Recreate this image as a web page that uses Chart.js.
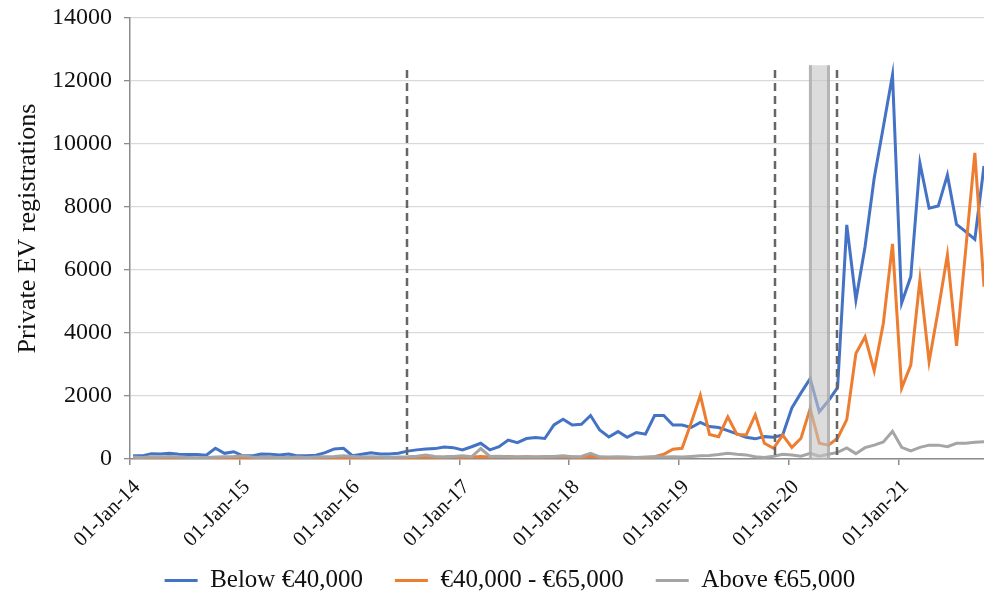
<!DOCTYPE html>
<html>
<head>
<meta charset="utf-8">
<script src="https://cdn.jsdelivr.net/npm/chart.js@4.4.1/dist/chart.umd.min.js"></script>
<style>
  html, body { margin: 0; padding: 0; background: #fff; }
  #wrap { width: 984px; height: 598px; }
</style>
</head>
<body>
<div id="wrap"><canvas id="chart" width="984" height="598"></canvas></div>
<script>
// x axis is in months since 01-Jan-14, points sit ~1/3 month after the tick
const YEAR_TICKS  = [0, 12, 24, 36, 48, 60, 72, 84];
const YEAR_LABELS = ['01-Jan-14', '01-Jan-15', '01-Jan-16', '01-Jan-17',
                     '01-Jan-18', '01-Jan-19', '01-Jan-20', '01-Jan-21'];
const POINT_OFFSET = 1 / 3;
const N_MONTHS = 94; // Jan 2014 .. Oct 2021

const BELOW_40K = [
  100, 100, 170, 160, 180, 150, 140, 140, 120, 340, 180, 230,
  100, 100, 160, 150, 130, 160, 100, 100, 120, 200, 320, 340,
  100, 150, 200, 160, 160, 180, 250, 290, 320, 330, 380, 360,
  290, 390, 500, 290, 390, 600, 520, 650, 680, 650, 1080, 1260,
  1080, 1100, 1380, 920, 700, 870, 690, 840, 790, 1380, 1380, 1080,
  1080, 1000, 1160, 1030, 1000, 900, 800, 690, 640, 710, 690, 760,
  1620, 2100, 2550, 1500, 1850, 2270, 7430, 5050, 6740, 8920, 10550, 12190,
  4950, 5790, 9390, 7960, 8030, 9020, 7450, 7220, 6975, 9300
];
const MID_40_65K = [
  20, 30, 40, 30, 40, 30, 20, 20, 30, 20, 20, 30,
  20, 20, 30, 30, 20, 30, 20, 20, 20, 30, 40, 30,
  30, 40, 40, 30, 40, 50, 40, 50, 60, 50, 60, 80,
  50, 60, 80, 60, 70, 80, 60, 70, 60, 70, 80, 70,
  60, 50, 90, 50, 40, 40, 50, 40, 40, 70, 150, 310,
  340, 1150, 2020, 780, 710, 1340, 780, 760, 1400, 500, 340, 760,
  370, 660, 1600, 500, 440, 660, 1250, 3350, 3880, 2800, 4310, 6830,
  2250, 2980, 5700, 3090, 4730, 6480, 3590, 6640, 9720, 5470
];
const ABOVE_65K = [
  60, 50, 70, 60, 80, 60, 50, 40, 50, 60, 70, 80,
  100, 60, 50, 60, 40, 50, 60, 50, 60, 70, 80, 100,
  80, 60, 70, 60, 50, 60, 70, 90, 130, 80, 60, 80,
  100, 70, 330, 80, 90, 70, 60, 80, 60, 70, 80, 100,
  70, 80, 180, 70, 60, 70, 60, 50, 60, 70, 60, 70,
  60, 80, 100, 110, 140, 180, 150, 130, 70, 50, 90, 150,
  130, 90, 180, 90, 150, 210, 350, 170, 360, 440, 540, 880,
  370, 260, 370, 440, 440, 390, 500, 500, 530, 550
];

// markers, in months since 01-Jan-14
const POLICY_LINES = [30.3, 70.5, 77.3];
const LOCKDOWN = [74.2, 76.5];
const DASH_TOP = 12350;
const BAND_TOP = 12500;

const Y_TITLE = 'Private EV registrations';

const SERIF = "'Liberation Serif', 'Times New Roman', serif";
Chart.defaults.font.family = SERIF;
Chart.defaults.color = '#111';

const toPoints = vals => vals.map((v, i) => ({ x: i + POINT_OFFSET, y: v }));

const markers = {
  id: 'markers',
  afterDatasetsDraw(chart) {
    const { ctx, scales: { x, y } } = chart;
    const bottom = y.getPixelForValue(0);
    ctx.save();
    // lockdown band
    const b0 = x.getPixelForValue(LOCKDOWN[0]);
    const b1 = x.getPixelForValue(LOCKDOWN[1]);
    const bTop = y.getPixelForValue(BAND_TOP);
    ctx.fillStyle = 'rgba(198,196,198,0.6)';
    ctx.fillRect(b0, bTop, b1 - b0, bottom - bTop);
    ctx.strokeStyle = 'rgba(165,165,165,0.7)';
    ctx.lineWidth = 3;
    [b0 + 1.5, b1 - 1.5].forEach(px => {
      ctx.beginPath();
      ctx.moveTo(px, bTop);
      ctx.lineTo(px, bottom);
      ctx.stroke();
    });
    // dashed policy lines
    ctx.setLineDash([8, 5]);
    ctx.strokeStyle = '#666';
    ctx.lineWidth = 2.5;
    const dTop = y.getPixelForValue(DASH_TOP);
    POLICY_LINES.forEach(m => {
      const px = Math.round(x.getPixelForValue(m));
      ctx.beginPath();
      ctx.moveTo(px, dTop);
      ctx.lineTo(px, bottom);
      ctx.stroke();
    });
    ctx.restore();
  }
};

// 45 degree date labels + y title, placed like the Excel original
const axisText = {
  id: 'axisText',
  afterDraw(chart) {
    const { ctx, scales: { x, y } } = chart;
    ctx.save();
    ctx.fillStyle = '#111';
    ctx.font = '21px ' + SERIF;
    ctx.textAlign = 'right';
    ctx.textBaseline = 'middle';
    YEAR_TICKS.forEach((v, i) => {
      ctx.save();
      ctx.translate(x.getPixelForValue(v) + 7, x.top + 25);
      ctx.rotate(-Math.PI / 4);
      ctx.fillText(YEAR_LABELS[i], 0, 0);
      ctx.restore();
    });
    ctx.font = '26px ' + SERIF;
    ctx.textAlign = 'center';
    ctx.translate(28, (y.top + y.bottom) / 2 - 10);
    ctx.rotate(-Math.PI / 2);
    ctx.fillText(Y_TITLE, 0, 0);
    ctx.restore();
  }
};

// nudge the legend row to where the original sits
const LEG_DX = 18, LEG_DY = 5;
const legendNudge = {
  id: 'legendNudge',
  afterLayout(chart) {
    const lg = chart.legend;
    lg.left += LEG_DX; lg.right += LEG_DX;
    lg.top += LEG_DY; lg.bottom += LEG_DY;
  }
};

const series = [
  { label: 'Below €40,000', data: BELOW_40K, color: '#4472C4', order: 3 },
  { label: '€40,000 - €65,000', data: MID_40_65K, color: '#ED7D31', order: 2 },
  { label: 'Above €65,000', data: ABOVE_65K, color: '#A5A5A5', order: 1 },
];

new Chart(document.getElementById('chart'), {
  type: 'line',
  data: {
    datasets: series.map(s => ({
      label: s.label,
      data: toPoints(s.data),
      borderColor: s.color,
      backgroundColor: s.color,
      borderWidth: 3,
      pointRadius: 0,
      tension: 0,
      order: s.order,
    }))
  },
  options: {
    responsive: false,
    animation: false,
    devicePixelRatio: 1,
    layout: { padding: { top: 18, right: 0, bottom: 0, left: 0 } },
    plugins: {
      tooltip: { enabled: false },
      legend: {
        position: 'bottom',
        labels: {
          usePointStyle: true,
          pointStyle: 'line',
          pointStyleWidth: 33,
          padding: 32,
          color: '#111',
          font: { size: 25 },
          sort: (a, b) => a.datasetIndex - b.datasetIndex,
        }
      }
    },
    scales: {
      x: {
        type: 'linear',
        min: 0,
        max: N_MONTHS - 1 + POINT_OFFSET,
        afterBuildTicks: scale => { scale.ticks = YEAR_TICKS.map(v => ({ value: v })); },
        afterFit: scale => {
          scale.height = 72;
          scale.paddingLeft = 0;
          scale.paddingRight = 0;
        },
        ticks: { display: false },
        grid: { drawOnChartArea: false, tickLength: 6, color: '#8c8c8c', lineWidth: 1.5 },
        border: { color: '#8c8c8c', width: 1.5 },
      },
      y: {
        min: 0,
        max: 14000,
        afterFit: scale => {
          scale.width = 130;
          scale.paddingTop = 0;
          scale.paddingBottom = 0;
        },
        ticks: { stepSize: 2000, padding: 12, font: { size: 24 }, color: '#111', callback: v => String(v) },
        grid: { color: '#d9d9d9', lineWidth: 1.3, tickColor: '#8c8c8c', tickLength: 6 },
        border: { color: '#8c8c8c', width: 1.5 },
      }
    }
  },
  plugins: [markers, axisText, legendNudge]
});
</script>
</body>
</html>
